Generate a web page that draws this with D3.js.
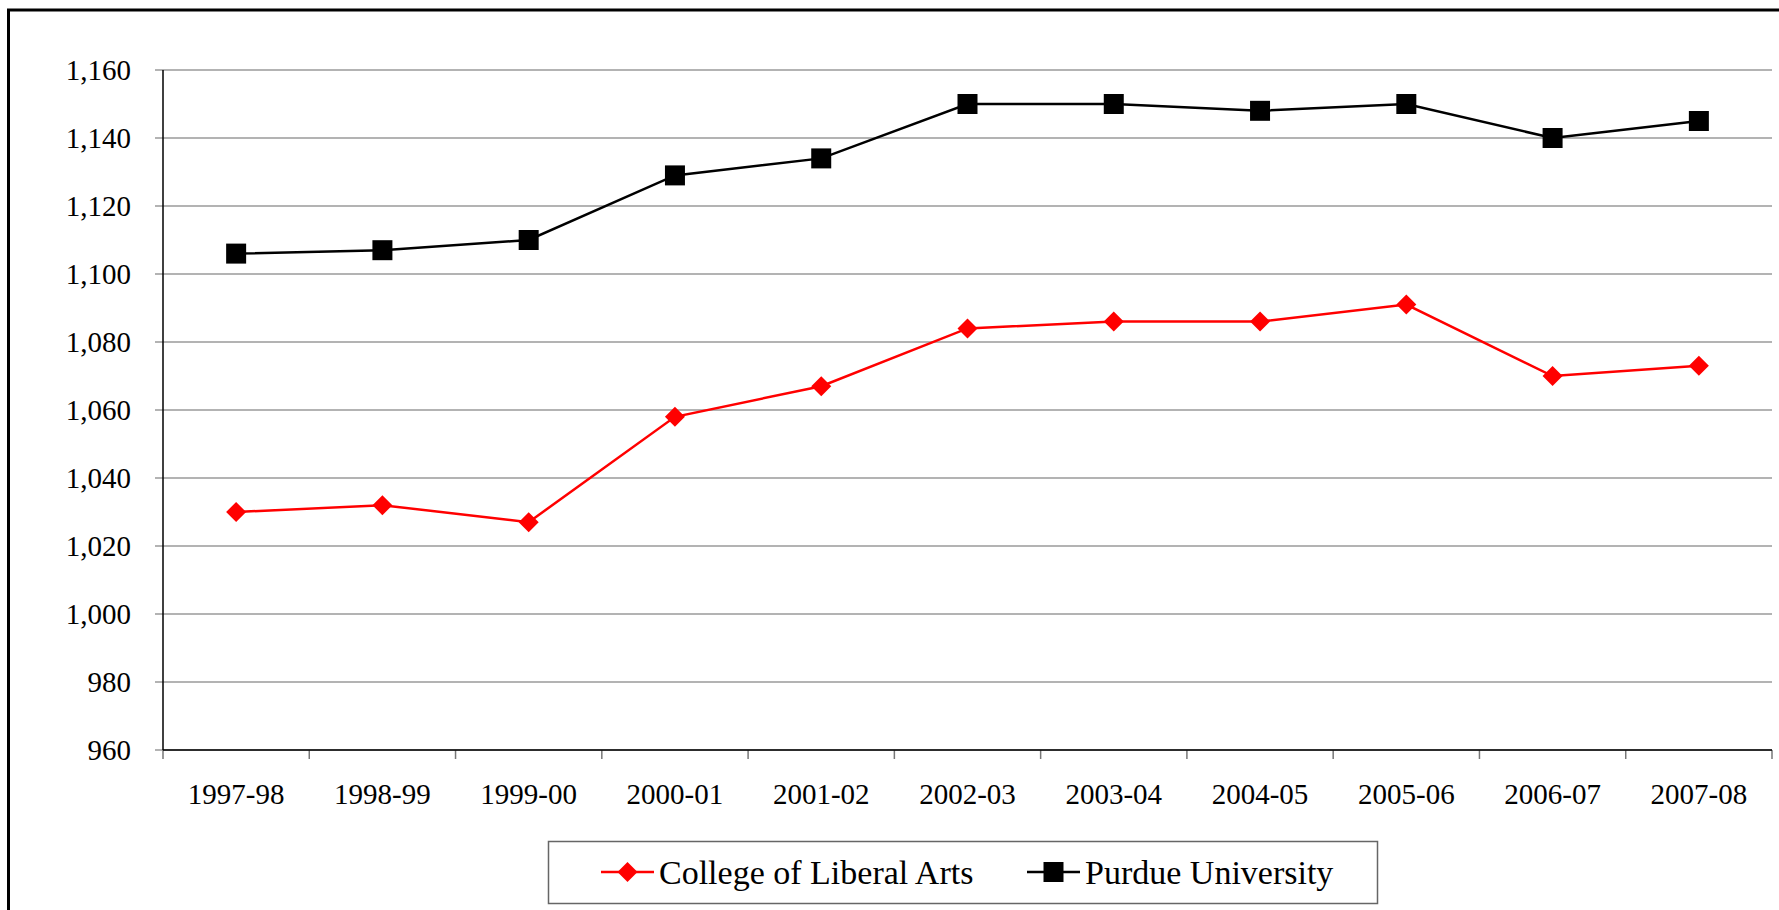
<!DOCTYPE html>
<html>
<head>
<meta charset="utf-8">
<script src="https://cdn.jsdelivr.net/npm/d3@7"></script>
<style>
  body { margin: 0; background: #fff; }
  svg { display: block; font-family: "Liberation Serif", "Times New Roman", serif; }
</style>
</head>
<body>
<svg id="chart" width="1779" height="910"></svg>
<script>
// chart data
const years = ['1997-98', '1998-99', '1999-00', '2000-01', '2001-02', '2002-03',
    '2003-04', '2004-05', '2005-06', '2006-07', '2007-08'];
const liberalArts = [1030, 1032, 1027, 1058, 1067, 1084, 1086, 1086, 1091, 1070, 1073];
const purdue = [1106, 1107, 1110, 1129, 1134, 1150, 1150, 1148, 1150, 1140, 1145];
const yTicks = [960, 980, 1000, 1020, 1040, 1060, 1080, 1100, 1120, 1140, 1160];

const svg = d3.select('#chart');

// outer frame (runs off the right and bottom edges)
svg.append('rect')
    .attr('x', 8.5)
    .attr('y', 10)
    .attr('width', 1800)
    .attr('height', 1000)
    .attr('fill', 'none')
    .attr('stroke', '#000')
    .attr('stroke-width', 3);

const plot = { left: 163, right: 1772, top: 70, bottom: 750 };

const x = d3.scaleBand()
    .domain(years)
    .range([plot.left, plot.right]);

const y = d3.scaleLinear()
    .domain([960, 1160])
    .range([plot.bottom, plot.top]);

// gridlines
svg.append('g')
    .selectAll('line')
    .data(yTicks)
    .join('line')
    .attr('x1', plot.left - 8)
    .attr('x2', plot.right)
    .attr('y1', d => y(d))
    .attr('y2', d => y(d))
    .attr('stroke', '#9a9a9a')
    .attr('stroke-width', 1.5);

// y labels
svg.append('g')
    .selectAll('text')
    .data(yTicks)
    .join('text')
    .attr('x', 131)
    .attr('y', d => y(d))
    .attr('dy', '0.34em')
    .attr('text-anchor', 'end')
    .style('font-size', '29px')
    .text(d3.format(','));

// x ticks at band edges
const edges = years.map(d => x(d)).concat([plot.right]);
svg.append('g')
    .selectAll('line')
    .data(edges)
    .join('line')
    .attr('x1', d => d)
    .attr('x2', d => d)
    .attr('y1', plot.bottom)
    .attr('y2', plot.bottom + 9)
    .attr('stroke', '#777')
    .attr('stroke-width', 1.5);

// x labels
svg.append('g')
    .selectAll('text')
    .data(years)
    .join('text')
    .attr('x', d => x(d) + x.bandwidth() / 2)
    .attr('y', 804)
    .attr('text-anchor', 'middle')
    .style('font-size', '29px')
    .text(d => d);

// axis lines
svg.append('line')
    .attr('x1', plot.left).attr('x2', plot.left)
    .attr('y1', plot.top).attr('y2', plot.bottom)
    .attr('stroke', '#000').attr('stroke-width', 1.5);
svg.append('line')
    .attr('x1', plot.left).attr('x2', plot.right)
    .attr('y1', plot.bottom).attr('y2', plot.bottom)
    .attr('stroke', '#000').attr('stroke-width', 1.5);

const cx = d => x(d) + x.bandwidth() / 2;
const line = d3.line()
    .x((d, i) => cx(years[i]))
    .y(d => y(d));

const diamond = 'M0,-10L10,0L0,10L-10,0Z';
const square = 'M-10,-10H10V10H-10Z';

const series = [
    { name: 'College of Liberal Arts', values: liberalArts, color: '#ff0000', marker: diamond },
    { name: 'Purdue University', values: purdue, color: '#000000', marker: square }
];

series.forEach(s => {
    svg.append('path')
        .attr('d', line(s.values))
        .attr('fill', 'none')
        .attr('stroke', s.color)
        .attr('stroke-width', 2.5);

    svg.append('g')
        .selectAll('path')
        .data(s.values)
        .join('path')
        .attr('transform', (d, i) => `translate(${cx(years[i])},${y(d)})`)
        .attr('d', s.marker)
        .attr('fill', s.color);
});

// legend
const legend = svg.append('g');
legend.append('rect')
    .attr('x', 548.5)
    .attr('y', 841.5)
    .attr('width', 829)
    .attr('height', 62)
    .attr('fill', '#fff')
    .attr('stroke', '#666')
    .attr('stroke-width', 1.5);

const legendX = [601, 1027];
series.forEach((s, i) => {
    const g = legend.append('g')
        .attr('transform', `translate(${legendX[i]}, 872)`);
    g.append('line')
        .attr('x1', 0).attr('x2', 53)
        .attr('stroke', s.color)
        .attr('stroke-width', 2.5);
    g.append('path')
        .attr('transform', 'translate(26.5,0)')
        .attr('d', s.marker)
        .attr('fill', s.color);
    g.append('text')
        .attr('x', 58)
        .attr('y', 12)
        .style('font-size', '34px')
        .text(s.name);
});
</script>
</body>
</html>
